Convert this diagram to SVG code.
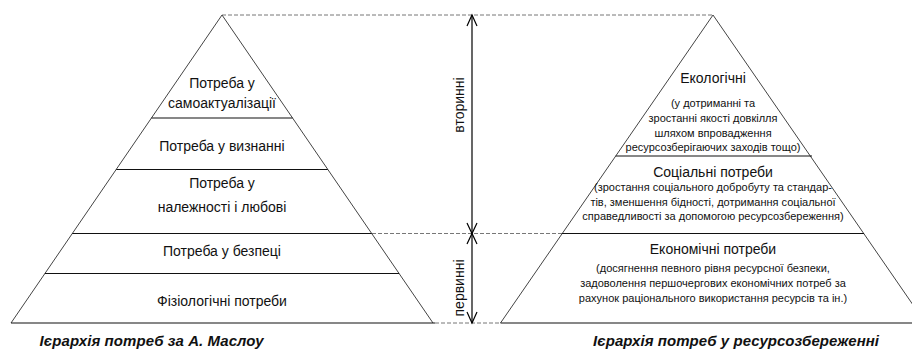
<svg xmlns="http://www.w3.org/2000/svg" width="912" height="349" viewBox="0 0 912 349">
<style>
  .bg{fill:#fff}
  .side{stroke:#444;stroke-width:1;fill:none}
  .hl{stroke:#111;stroke-width:1.1;fill:none}
  .dash{stroke:#777;stroke-width:1;stroke-dasharray:4 2;fill:none}
  .axis{stroke:#000;stroke-width:1.2;fill:none}
  text{font-family:"Liberation Sans",Arial,sans-serif;fill:#111;text-anchor:middle}
  .h{font-size:14px}
  .s{font-size:11px}
  .cap{font-size:15px;font-style:italic;font-weight:bold}
  .v{font-size:14px}
</style>
<rect class="bg" x="0" y="0" width="912" height="349"/>

<g id="connectors">
  <line class="dash" x1="222" y1="15" x2="713" y2="15"/>
  <line class="dash" x1="372" y1="233.5" x2="562" y2="233.5"/>
  <line class="dash" x1="435" y1="323" x2="500.5" y2="323"/>
  <line class="axis" x1="472" y1="15" x2="472" y2="323"/>
  <polyline class="axis" points="467,26 472,15 477,26"/>
  <polyline class="axis" points="467,223 472,233.5 477,223"/>
  <polyline class="axis" points="467,244 472,233.5 477,244"/>
  <polyline class="axis" points="467,312 472,323 477,312"/>
  <text class="v" transform="translate(464,105) rotate(-90)">вторинні</text>
  <text class="v" transform="translate(464,288) rotate(-90)">первинні</text>
</g>

<g id="maslow-pyramid">
  <polyline class="side" points="11,323 222,15 433,323"/>
  <line class="hl" x1="11" y1="323" x2="435" y2="323"/>
</g>
<g id="maslow-self">
  <line class="hl" x1="151.4" y1="118" x2="292.6" y2="118"/>
  <text class="h" x="222" y="88">Потреба у</text>
  <text class="h" x="222" y="107.5">самоактуалізації</text>
</g>
<g id="maslow-esteem">
  <line class="hl" x1="116.2" y1="169.5" x2="327.8" y2="169.5"/>
  <text class="h" x="222" y="151">Потреба у визнанні</text>
</g>
<g id="maslow-love">
  <line class="hl" x1="72.3" y1="233.5" x2="371.7" y2="233.5"/>
  <text class="h" x="222" y="188">Потреба у</text>
  <text class="h" x="222" y="212">належності і любові</text>
</g>
<g id="maslow-safety">
  <line class="hl" x1="44.9" y1="273.5" x2="399.1" y2="273.5"/>
  <text class="h" x="222" y="256">Потреба у безпеці</text>
</g>
<g id="maslow-physio">
  <text class="h" x="222" y="306">Фізіологічні потреби</text>
</g>
<g id="maslow-caption">
  <text class="cap" x="151.5" y="346" textLength="224">Ієрархія потреб за А. Маслоу</text>
</g>

<g id="resource-pyramid">
  <polyline class="side" points="500.5,323 713,15 925.5,323"/>
  <line class="hl" x1="500.5" y1="323" x2="912" y2="323"/>
</g>
<g id="resource-eco">
  <line class="hl" x1="615.7" y1="156" x2="812" y2="156"/>
  <text class="h" x="713" y="83">Екологічні</text>
  <text class="s" x="713" y="107">(у дотриманні та</text>
  <text class="s" x="713" y="122">зростанні якості довкілля</text>
  <text class="s" x="713" y="136.5">шляхом впровадження</text>
  <text class="s" x="713" y="151">ресурсозберігаючих заходів тощо)</text>
</g>
<g id="resource-social">
  <line class="hl" x1="562" y1="233.5" x2="864" y2="233.5"/>
  <text class="h" x="713" y="176.5">Соціальні потреби</text>
  <text class="s" x="713" y="191">(зростання соціального добробуту та стандар-</text>
  <text class="s" x="713" y="205.5">тів, зменшення бідності, дотримання соціальної</text>
  <text class="s" x="713" y="220">справедливості за допомогою ресурсозбереження)</text>
</g>
<g id="resource-economic">
  <text class="h" x="713" y="254">Економічні потреби</text>
  <text class="s" x="713" y="271.5">(досягнення певного рівня ресурсної безпеки,</text>
  <text class="s" x="713" y="287">задоволення першочергових економічних потреб за</text>
  <text class="s" x="713" y="302">рахунок раціонального використання ресурсів та ін.)</text>
</g>
<g id="resource-caption">
  <text class="cap" x="736" y="346" textLength="286">Ієрархія потреб у ресурсозбереженні</text>
</g>
</svg>
